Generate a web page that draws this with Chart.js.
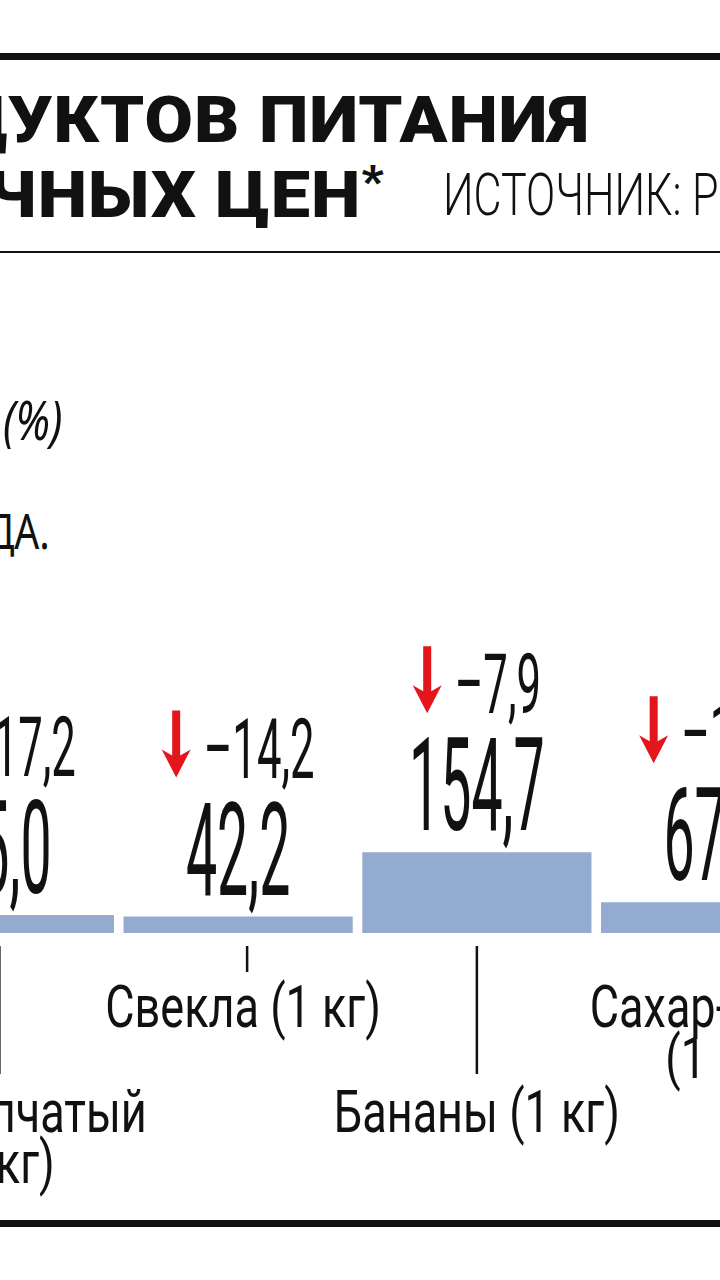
<!DOCTYPE html>
<html lang="ru">
<head>
<meta charset="utf-8">
<title>Цены на продукты питания</title>
<script src="https://cdn.jsdelivr.net/npm/chart.js@4.4.1/dist/chart.umd.min.js"></script>
<style>
  html, body { margin: 0; padding: 0; background: #fff; }
  body {
    width: 720px; height: 1280px; position: relative; overflow: hidden;
    font-family: Roboto, "Liberation Sans", sans-serif; color: #111;
  }
  .rule { position: absolute; left: 0; width: 720px; background: #111; }
  .txt { position: absolute; white-space: nowrap; line-height: 1; }
  .title { font-weight: 900; font-size: 65px; right: 0; letter-spacing: 1px; transform: scaleX(1.08); transform-origin: right top; }
  .title sup { font-size: 44px; vertical-align: 20px; }
  #source { left: 443px; top: 165px; font-weight: 300; font-size: 59px; transform: scaleX(0.73); transform-origin: left top; }
  #unit { font-family: "Noto Sans", sans-serif; font-style: italic; font-size: 54px; right: 658px; top: 392px; transform: scaleX(0.8); transform-origin: right top; }
  #note { font-family: "Noto Sans", sans-serif; font-size: 49px; right: 670px; top: 506px; transform: scaleX(0.8); transform-origin: right top; }
  #wrap { position: absolute; left: -120px; top: 600px; width: 955px; height: 620px; }
</style>
</head>
<body>
<div class="rule" style="top:53px;height:7px"></div>
<div class="txt title" style="top:88px;right:130px">ПРОДУКТОВ ПИТАНИЯ</div>
<div class="txt title" style="top:160px;right:335px">РОЗНИЧНЫХ ЦЕН<sup>*</sup></div>
<div class="txt" id="source">ИСТОЧНИК: РОССТАТ</div>
<div class="rule" style="top:251px;height:2px"></div>
<div class="txt" id="unit">(%)</div>
<div class="txt" id="note">ГОДА.</div>
<div id="wrap"><canvas id="pricesChart"></canvas></div>
<div class="rule" style="top:1220px;height:7px"></div>

<script>
// --------- Data ---------
const categories = [["Лук репчатый", "(1 кг)"], ["Свекла (1 кг)"], ["Бананы (1 кг)"], ["Сахар-песок", "(1 кг)"]];
const prices = [45.0, 42.2, 154.7, 67.4];
const changes = [-17.2, -14.2, -7.9, -11.3];
const axisMin = 13.5;
const axisMax = 595;

const BAR_COLOR = "#93abcf";
const ARROW_RED = "#e3161b";

// --------- Helpers ---------
function fmt(n) {
  return Math.abs(n).toFixed(1).replace(".", ",");
}

// Condensed text: the original uses a very narrow face, so squeeze horizontally
function narrowText(ctx, text, x, y, size, sx, align, weight) {
  ctx.save();
  ctx.font = `${weight || 400} ${size}px Roboto, "Liberation Sans", sans-serif`;
  ctx.textAlign = align;
  ctx.textBaseline = "alphabetic";
  ctx.translate(x, y);
  ctx.scale(sx, 1);
  ctx.fillText(text, 0, 0);
  ctx.restore();
}

function measureNarrow(ctx, text, size, sx, weight) {
  ctx.save();
  ctx.font = `${weight || 400} ${size}px Roboto, "Liberation Sans", sans-serif`;
  const w = ctx.measureText(text).width * sx;
  ctx.restore();
  return w;
}

function downArrow(ctx, ax, base) {
  ctx.save();
  ctx.fillStyle = ARROW_RED;
  ctx.beginPath();
  ctx.moveTo(ax - 4, base - 67);
  ctx.lineTo(ax + 4, base - 67);
  ctx.lineTo(ax + 4, base - 22);
  ctx.lineTo(ax + 14.5, base - 28);
  ctx.lineTo(ax, base);
  ctx.lineTo(ax - 14.5, base - 28);
  ctx.lineTo(ax - 4, base - 22);
  ctx.closePath();
  ctx.fill();
  ctx.restore();
}

// --------- Labels plugin ---------
const barLabels = {
  id: "barLabels",
  afterDatasetsDraw(chart) {
    const ctx = chart.ctx;
    const axisY = chart.scales.y.getPixelForValue(axisMin);
    const meta = chart.getDatasetMeta(0);

    meta.data.forEach((bar, i) => {
      const cx = chart.scales.x.getPixelForValue(i);
      ctx.fillStyle = "#111";

      // price above the bar
      const valueBase = bar.y - 22;
      narrowText(ctx, fmt(prices[i]), cx, valueBase, 129, 0.43, "center", 400);

      // change with arrow
      const changeBase = valueBase - 117;
      const changeTxt = (changes[i] < 0 ? "–" : "+") + fmt(changes[i]);
      const tw = measureNarrow(ctx, changeTxt, 84, 0.52, 400);
      const groupW = 29 + 13 + tw;
      const x0 = cx - groupW / 2;
      downArrow(ctx, x0 + 14.5, changeBase);
      ctx.fillStyle = "#111";
      narrowText(ctx, changeTxt, x0 + 42, changeBase, 84, 0.52, "left", 400);

      // tick + category label, alternating rows (upper row sits a little right)
      const lower = i % 2 === 0;
      const tickX = lower ? cx : cx + 9;
      const labelX = lower ? cx : cx + 5;
      ctx.fillRect(tickX - 1.25, axisY + 13, 2.5, lower ? 128 : 26);
      let y = axisY + (lower ? 199 : 94);
      categories[i].forEach((line) => {
        narrowText(ctx, line, labelX, y, 60, 0.75, "center", 400);
        y += 51;
      });
    });
  }
};

// --------- Chart ---------
new Chart(document.getElementById("pricesChart"), {
  type: "bar",
  data: {
    labels: categories.map((c) => c.join(" ")),
    datasets: [
      {
        data: prices,
        backgroundColor: BAR_COLOR,
        borderWidth: 0,
        barPercentage: 0.96,
        categoryPercentage: 1.0
      }
    ]
  },
  options: {
    responsive: true,
    maintainAspectRatio: false,
    animation: false,
    devicePixelRatio: 1,
    layout: { padding: { top: 0, bottom: 287, left: 0, right: 0 } },
    plugins: {
      legend: { display: false },
      tooltip: { enabled: false }
    },
    scales: {
      x: { display: false },
      y: { display: false, min: axisMin, max: axisMax }
    }
  },
  plugins: [barLabels]
});
</script>
</body>
</html>
